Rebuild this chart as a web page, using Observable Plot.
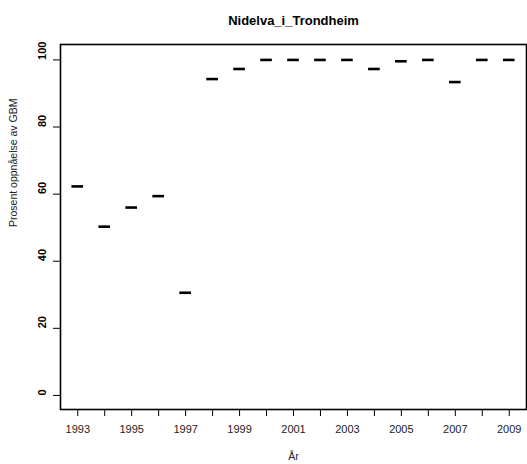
<!DOCTYPE html>
<html>
<head>
<meta charset="utf-8">
<script src="https://cdn.jsdelivr.net/npm/d3@7"></script>
<script src="https://cdn.jsdelivr.net/npm/@observablehq/plot@0.6"></script>
<style>
  html, body { margin: 0; padding: 0; background: #fff; }
  svg { display: block; }
</style>
</head>
<body>
<div id="chart"></div>
<script>
const title = "Nidelva_i_Trondheim";
const xLabel = "År";
const yLabel = "Prosent oppnåelse av GBM";
const years = [1993, 1994, 1995, 1996, 1997, 1998, 1999, 2000, 2001, 2002, 2003, 2004, 2005, 2006, 2007, 2008, 2009];
const values = [62.3, 50.3, 56.0, 59.4, 30.6, 94.3, 97.3, 100, 100, 100, 100, 97.3, 99.6, 100, 93.4, 100, 100];
const yTicks = [0, 20, 40, 60, 80, 100];

const data = years.map((y, i) => ({year: y, value: values[i]}));
const halfW = 0.216;
const font = "'Liberation Sans', Arial, Helvetica, sans-serif";

const chart = Plot.plot({
  width: 527,
  height: 464,
  marginTop: 44,
  marginBottom: 55,
  marginLeft: 60,
  marginRight: 1,
  style: {fontFamily: font, background: "#fff", color: "#000"},
  x: {domain: [1992.36, 2009.64], axis: null},
  y: {domain: [-4.2, 104.6], axis: null},
  marks: [
    Plot.axisX({ticks: years, tickFormat: d => (d % 2 ? String(d) : ""), tickSize: 7, tickPadding: 9, fontSize: 11, stroke: "#000", fill: "#222", label: null}),
    Plot.axisY({ticks: yTicks, tickFormat: () => "", tickSize: 7, stroke: "#000", label: null}),
    Plot.text(yTicks, {y: d => d, text: d => String(d), frameAnchor: "left", dx: -18, rotate: -90, fontSize: 11, fontWeight: "bold", fill: "#000"}),
    Plot.frame({stroke: "#000", strokeWidth: 1.6}),
    Plot.ruleY(data, {y: "value", x1: d => d.year - halfW, x2: d => d.year + halfW, stroke: "#000", strokeWidth: 2.6}),
    Plot.text([title], {frameAnchor: "top", dy: -24, lineAnchor: "middle", text: d => d, fontSize: 13, fontWeight: "bold", fill: "#000"}),
    Plot.text([xLabel], {frameAnchor: "bottom", dy: 47, lineAnchor: "middle", text: d => d, fontSize: 10.5, fill: "#222"}),
    Plot.text([yLabel], {frameAnchor: "left", dx: -47, rotate: -90, text: d => d, fontSize: 10.5, fill: "#222"})
  ]
});
document.getElementById("chart").appendChild(chart);
</script>
</body>
</html>
